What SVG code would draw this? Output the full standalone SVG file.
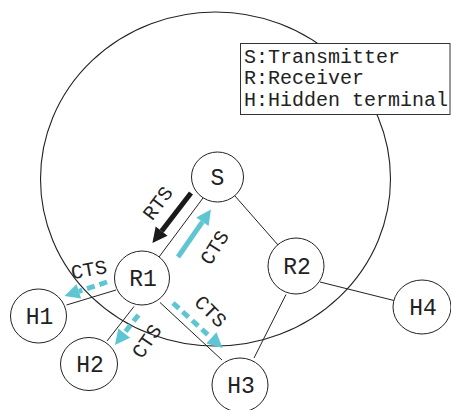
<svg xmlns="http://www.w3.org/2000/svg" width="451" height="410" viewBox="0 0 451 410">
  <style>
    .range { fill: none; stroke: #222; stroke-width: 1.1; }
    .edge { stroke: #222; stroke-width: 1; fill: none; }
    .node ellipse { fill: #fff; stroke: #222; stroke-width: 1; }
    .node text { font-family: "Liberation Mono", "DejaVu Sans Mono", monospace; font-size: 23px; fill: #222; text-anchor: middle; }
    .label { font-family: "Liberation Mono", "DejaVu Sans Mono", monospace; font-size: 20px; fill: #222; text-anchor: middle; }
    .legend-text { font-family: "Liberation Mono", "DejaVu Sans Mono", monospace; font-size: 20px; fill: #222; }
    .rts { stroke: #1a1a1a; stroke-width: 5; fill: none; }
    .cts { stroke: #5ec5d2; stroke-width: 5; fill: none; }
    .cts-dash { stroke: #5ec5d2; stroke-width: 5; fill: none; stroke-dasharray: 8 5; }
  </style>
  <defs>
    <marker id="head-black" markerUnits="userSpaceOnUse" viewBox="0 -8 16 16" markerWidth="16" markerHeight="16" refX="0" refY="0" orient="auto" overflow="visible">
      <path d="M0,-7.5 L15,0 L0,7.5 Z" fill="#1a1a1a"/>
    </marker>
    <marker id="head-cyan" markerUnits="userSpaceOnUse" viewBox="0 -8 16 16" markerWidth="16" markerHeight="16" refX="0" refY="0" orient="auto" overflow="visible">
      <path d="M0,-7.5 L15,0 L0,7.5 Z" fill="#5ec5d2"/>
    </marker>
  </defs>

  <!-- transmission range of S -->
  <ellipse class="range" cx="215.5" cy="179" rx="175" ry="167"/>

  <!-- links between stations -->
  <g id="connectors">
    <line class="edge" x1="203" y1="198" x2="159" y2="257"/>
    <line class="edge" x1="235" y1="196" x2="278" y2="245"/>
    <line class="edge" x1="116" y1="290" x2="66.5" y2="305"/>
    <line class="edge" x1="134" y1="306.5" x2="107" y2="341"/>
    <line class="edge" x1="160" y1="302.5" x2="222" y2="360"/>
    <line class="edge" x1="286" y1="294.5" x2="254" y2="358"/>
    <line class="edge" x1="320" y1="282" x2="394" y2="300.5"/>

    <!-- RTS from S to R1 -->
    <line class="rts" x1="191" y1="193" x2="161.6" y2="231.1" marker-end="url(#head-black)"/>
    <!-- CTS from R1 back to S -->
    <line class="cts" x1="178" y1="257" x2="202.4" y2="221.8" marker-end="url(#head-cyan)"/>
    <!-- CTS overheard by hidden terminals -->
    <line class="cts-dash" x1="107" y1="282" x2="78.8" y2="291.3" marker-end="url(#head-cyan)"/>
    <line class="cts-dash" x1="138.5" y1="315" x2="124.2" y2="333.2" marker-end="url(#head-cyan)"/>
    <line class="cts-dash" x1="173" y1="303" x2="211.4" y2="337.9" marker-end="url(#head-cyan)"/>
  </g>

  <!-- message labels -->
  <text class="label" transform="translate(163,207) rotate(-53)">RTS</text>
  <text class="label" transform="translate(220,251) rotate(-58)">CTS</text>
  <text class="label" transform="translate(90,276) rotate(-10)">CTS</text>
  <text class="label" transform="translate(152,345) rotate(-55)">CTS</text>
  <text class="label" transform="translate(206,316) rotate(45)">CTS</text>

  <!-- legend -->
  <g id="legend">
    <rect x="240.5" y="43.5" width="209.5" height="71" fill="#fff" stroke="#333" stroke-width="1"/>
    <text class="legend-text" x="244" y="63">S:Transmitter</text>
    <text class="legend-text" x="244" y="84">R:Receiver</text>
    <text class="legend-text" x="244" y="106">H:Hidden terminal</text>
  </g>

  <!-- stations -->
  <g id="S" class="node">
    <ellipse cx="217.5" cy="177" rx="26" ry="25"/>
    <text x="217.5" y="185">S</text>
  </g>
  <g id="R1" class="node">
    <ellipse cx="142" cy="278" rx="27.5" ry="27"/>
    <text x="143" y="286">R1</text>
  </g>
  <g id="R2" class="node">
    <ellipse cx="296" cy="266" rx="28" ry="28"/>
    <text x="297" y="274">R2</text>
  </g>
  <g id="H1" class="node">
    <ellipse cx="38.5" cy="316" rx="28" ry="27"/>
    <text x="39.5" y="324">H1</text>
  </g>
  <g id="H2" class="node">
    <ellipse cx="89" cy="364" rx="28.5" ry="26.5"/>
    <text x="90" y="372">H2</text>
  </g>
  <g id="H3" class="node">
    <ellipse cx="240" cy="385" rx="28" ry="27"/>
    <text x="241" y="393">H3</text>
  </g>
  <g id="H4" class="node">
    <ellipse cx="422" cy="307" rx="29" ry="27"/>
    <text x="423" y="315">H4</text>
  </g>
</svg>
